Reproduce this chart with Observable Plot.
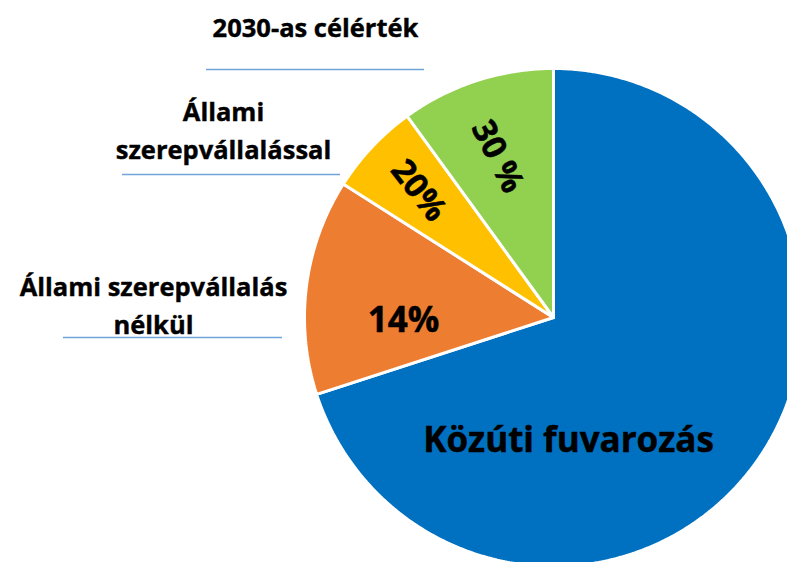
<!DOCTYPE html>
<html>
<head>
<meta charset="utf-8">
<script src="https://cdn.jsdelivr.net/npm/d3@7"></script>
<script src="https://cdn.jsdelivr.net/npm/@observablehq/plot@0.6"></script>
<style>
  html, body { margin: 0; padding: 0; background: #fff; }
  #chart { width: 787px; height: 562px; overflow: hidden; }
</style>
</head>
<body>
<div id="chart"></div>
<script>
// ---- data ----
const categories = ["Közúti fuvarozás", "Állami szerepvállalás nélkül", "Állami szerepvállalással", "2030-as célérték"];
const shares = [70, 14, 6, 10];
const sliceLabels = ["Közúti fuvarozás", "14%", "20%", "30 %"];
const colors = ["#0070C0", "#ED7D31", "#FFC000", "#92D050"];
const legendTexts = ["2030-as célérték", "Állami\nszerepvállalással", "Állami szerepvállalás\nnélkül"];

// ---- layout (pixels) ----
const W = 787, H = 562;
const CX = 553, CY = 317, R = 249;
const toX = px => (px - CX) / R;
const toY = py => (CY - py) / R;

// slice label placement (pixel centers, rotation, size)
const sliceLabelLayout = [
  {x: 568, y: 440, rotate: 0, size: 35},
  {x: 403, y: 320, rotate: 0, size: 35},
  {x: 418, y: 190, rotate: 52, size: 33},
  {x: 497, y: 156, rotate: 63, size: 33}
];
// outside labels (pixel centers) and underline segments
const legendLayout = [
  {x: 315, y: 24},
  {x: 223, y: 127},
  {x: 153, y: 302}
];
const underlineLayout = [
  {x1: 206, x2: 424, y: 69},
  {x1: 122, x2: 340, y: 174},
  {x1: 63, x2: 282, y: 337}
];

// ---- pie geometry from data ----
const pie = d3.pie().sort(null).value(d => d.value);
const arcs = pie(categories.map((c, i) => ({name: c, value: shares[i], color: colors[i]})));
const pts = [];
for (const a of arcs) {
  pts.push({slice: a.data.name, color: a.data.color, x: 0, y: 0});
  const n = Math.max(4, Math.ceil((a.endAngle - a.startAngle) / 0.01));
  for (let k = 0; k <= n; k++) {
    const t = a.startAngle + (a.endAngle - a.startAngle) * k / n;
    pts.push({slice: a.data.name, color: a.data.color, x: Math.sin(t), y: Math.cos(t)});
  }
  pts.push({slice: a.data.name, color: a.data.color, x: 0, y: 0});
}

const sliceText = sliceLabels.map((t, i) => ({
  text: t, x: toX(sliceLabelLayout[i].x), y: toY(sliceLabelLayout[i].y),
  rotate: sliceLabelLayout[i].rotate, size: sliceLabelLayout[i].size
}));
const legendText = legendTexts.map((t, i) => ({text: t, x: toX(legendLayout[i].x), y: toY(legendLayout[i].y)}));
const rules = underlineLayout.map(u => ({x1: toX(u.x1), x2: toX(u.x2), y: toY(u.y)}));

const font = "'Open Sans', 'Noto Sans', sans-serif";

const chart = Plot.plot({
  width: W,
  height: H,
  margin: 0,
  style: {background: "#fff", fontFamily: font, overflow: "hidden"},
  x: {domain: [toX(0), toX(W)], axis: null},
  y: {domain: [toY(H), toY(0)], axis: null},
  marks: [
    Plot.line(pts, {x: "x", y: "y", z: "slice", fill: "color", stroke: "white", strokeWidth: 3, strokeLinejoin: "miter", curve: "linear"}),
    Plot.ruleY(rules, {x1: "x1", x2: "x2", y: "y", stroke: "#6FA3DA", strokeWidth: 1.5}),
    Plot.text(legendText, {x: "x", y: "y", text: "text", fontSize: 25.5, fontWeight: "bold", fill: "black", stroke: "black", strokeWidth: 0.4, lineHeight: 1.5, textAnchor: "middle"}),
    ...sliceText.map(d => Plot.text([d], {x: "x", y: "y", text: "text", rotate: d.rotate, fontSize: d.size, fontWeight: "bold", fill: "black", stroke: "black", strokeWidth: 0.5, textAnchor: "middle"}))
  ]
});
document.getElementById("chart").appendChild(chart);
</script>
</body>
</html>
